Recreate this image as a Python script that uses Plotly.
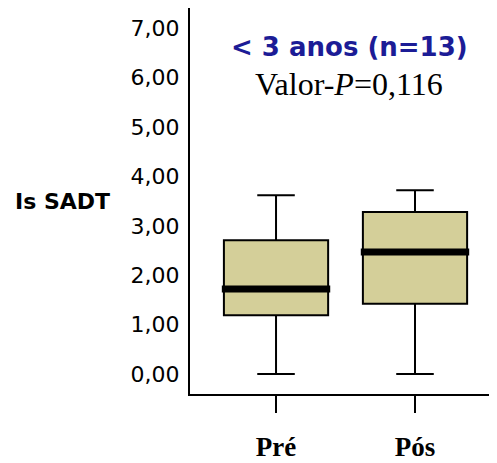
import plotly.graph_objects as go

# box statistics
groups = ["Pré", "Pós"]
lower = [0.00, 0.00]
q1 = [1.19, 1.42]
median = [1.72, 2.47]
q3 = [2.71, 3.28]
upper = [3.62, 3.72]

fill = "rgb(212,207,153)"

fig = go.Figure()
for i, g in enumerate(groups):
    fig.add_trace(go.Box(
        x=[i], q1=[q1[i]], median=[median[i]], q3=[q3[i]],
        lowerfence=[lower[i]], upperfence=[upper[i]],
        name=g, width=0.75, whiskerwidth=0.36,
        fillcolor=fill, line=dict(color="black", width=2),
        boxpoints=False, showlegend=False,
    ))
    # thick median bar
    fig.add_shape(type="line", xref="x", yref="y",
                  x0=i - 0.39, x1=i + 0.39, y0=median[i], y1=median[i],
                  line=dict(color="black", width=7))

# page body adds an 8px margin, so the figure is sized to fit the window
fig.update_layout(
    width=489, height=455,
    margin=dict(l=182, r=0, t=0, b=69),
    plot_bgcolor="white", paper_bgcolor="white",
    separators=",.",
    showlegend=False,
    annotations=[
        dict(text="<b>&lt; 3 anos (n=13)</b>", xref="paper", yref="paper",
             x=0.518, y=0.898, xanchor="center", yanchor="middle", showarrow=False,
             font=dict(family="DejaVu Sans", size=26, color="rgb(28,28,150)")),
        dict(text="Valor-<i>P</i>=0,116", xref="paper", yref="paper",
             x=0.518, y=0.802, xanchor="center", yanchor="middle", showarrow=False,
             font=dict(family="Liberation Serif", size=32, color="black")),
        dict(text="<b>Is SADT</b>", xref="paper", yref="paper",
             x=-0.415, y=0.50, xanchor="center", yanchor="middle", showarrow=False,
             font=dict(family="DejaVu Sans", size=22, color="black")),
    ],
)

fig.update_xaxes(
    range=[-0.619, 1.59], tickvals=[0, 1], ticktext=[f"<b>{g}</b>" for g in groups],
    showline=True, linecolor="black", linewidth=2,
    ticks="outside", ticklen=17, tickwidth=2, tickcolor="black",
    ticklabelstandoff=11, showgrid=False, zeroline=False,
    tickfont=dict(family="Liberation Serif", size=27, color="black"),
)
fig.update_yaxes(
    range=[-0.405, 7.41], tick0=0, dtick=1, tickformat=".2f",
    showline=True, linecolor="black", linewidth=2,
    ticks="", ticklabelstandoff=4, showgrid=False, zeroline=False,
    tickfont=dict(family="DejaVu Sans", size=22, color="black"),
)

fig.write_html("out.html")
